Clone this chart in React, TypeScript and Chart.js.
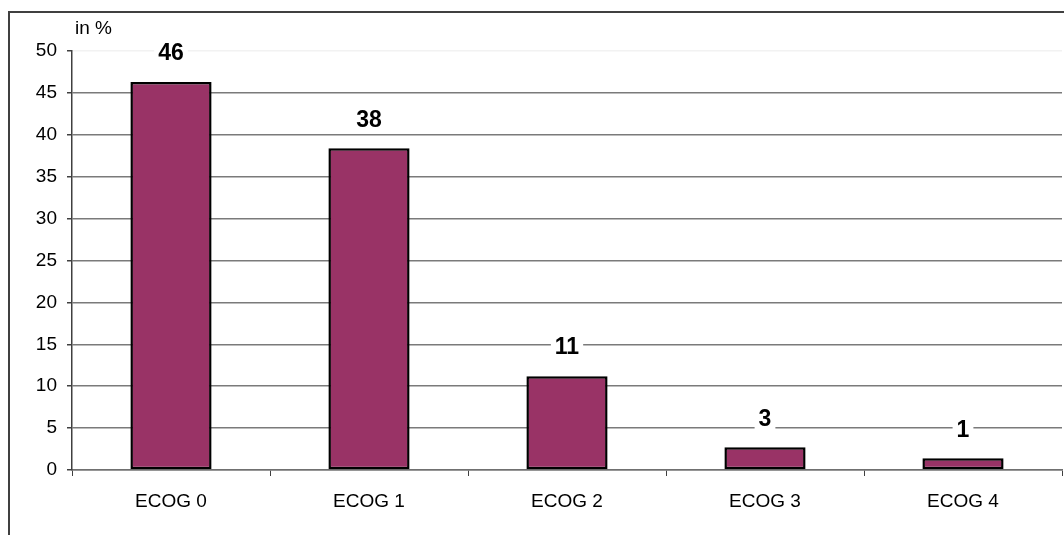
import React, { useEffect, useRef } from "react";
import { Chart, registerables } from "chart.js";

Chart.register(...registerables);

// ECOG performance status distribution, in percent
const categories = ["ECOG 0", "ECOG 1", "ECOG 2", "ECOG 3", "ECOG 4"];
const shares = [46.3, 38.4, 11.2, 2.7, 1.4];
const yTicks = [0, 5, 10, 15, 20, 25, 30, 35, 40, 45, 50];
const unitLabel = "in %";

const FONT = "'Liberation Sans', Arial, sans-serif";

// White background plus the outer frame and the unit caption
const framePlugin = {
  id: "frame",
  beforeDraw(chart: any) {
    const { ctx, width, height } = chart;
    ctx.save();
    ctx.fillStyle = "#ffffff";
    ctx.fillRect(0, 0, width, height);
    ctx.strokeStyle = "#404040";
    ctx.lineWidth = 2;
    ctx.strokeRect(9, 12, width + 20, height + 20);
    ctx.fillStyle = "#000000";
    ctx.font = `19px ${FONT}`;
    ctx.textAlign = "left";
    ctx.textBaseline = "middle";
    ctx.fillText(unitLabel, 75, 29);
    ctx.restore();
  },
};

// Bold value labels above each bar, on a white box over the grid lines
const valueLabelPlugin = {
  id: "valueLabels",
  afterDatasetsDraw(chart: any) {
    const { ctx } = chart;
    const meta = chart.getDatasetMeta(0);
    const data = chart.data.datasets[0].data as number[];
    ctx.save();
    ctx.font = `bold 23px ${FONT}`;
    ctx.textAlign = "center";
    ctx.textBaseline = "middle";
    meta.data.forEach((bar: any, i: number) => {
      const text = String(Math.round(data[i]));
      const cy = bar.y - 29;
      const w = ctx.measureText(text).width + 8;
      ctx.fillStyle = "#ffffff";
      ctx.fillRect(bar.x - w / 2, cy - 12, w, 24);
      ctx.fillStyle = "#000000";
      ctx.fillText(text, bar.x, cy + 1);
    });
    ctx.restore();
  },
};

export default function App() {
  const canvasRef = useRef<HTMLCanvasElement | null>(null);

  useEffect(() => {
    if (!canvasRef.current) return;
    const chart = new Chart(canvasRef.current, {
      type: "bar",
      data: {
        labels: categories,
        datasets: [
          {
            data: shares,
            backgroundColor: "#993366",
            borderColor: "#000000",
            borderWidth: 2.5,
            borderSkipped: false,
            barPercentage: 0.41,
            categoryPercentage: 1,
          },
        ],
      },
      options: {
        responsive: false,
        animation: false,
        devicePixelRatio: 1,
        layout: { padding: { left: 0, right: 2, top: 51, bottom: 0 } },
        plugins: {
          legend: { display: false },
          tooltip: { enabled: false },
          title: { display: false },
        },
        scales: {
          x: {
            offset: true,
            grid: {
              offset: true,
              drawOnChartArea: false,
              drawTicks: true,
              tickLength: 6,
              color: "#404040",
            },
            border: { color: "#707070", width: 1.5 },
            ticks: {
              color: "#000000",
              font: { family: FONT, size: 19 },
              padding: 14,
              maxRotation: 0,
            },
            afterFit(scale: any) {
              scale.height = 65;
            },
          },
          y: {
            min: 0,
            max: 50,
            afterBuildTicks(scale: any) {
              scale.ticks = yTicks.map((v) => ({ value: v }));
            },
            grid: {
              color: (c: any) => (c.tick && c.tick.value === 50 ? "#f2f2f2" : "#7a7a7a"),
              tickColor: "#404040",
              tickLength: 5,
              lineWidth: 1.5,
            },
            border: { color: "#404040", width: 1.5 },
            ticks: {
              color: "#000000",
              font: { family: FONT, size: 19 },
              padding: 10,
            },
            afterFit(scale: any) {
              scale.width = 72;
            },
          },
        },
      },
      plugins: [framePlugin, valueLabelPlugin],
    });
    return () => chart.destroy();
  }, []);

  return (
    <div style={{ position: "fixed", left: 0, top: 0, width: 1064, height: 535, background: "#fff" }}>
      <canvas ref={canvasRef} width={1064} height={535} />
    </div>
  );
}
